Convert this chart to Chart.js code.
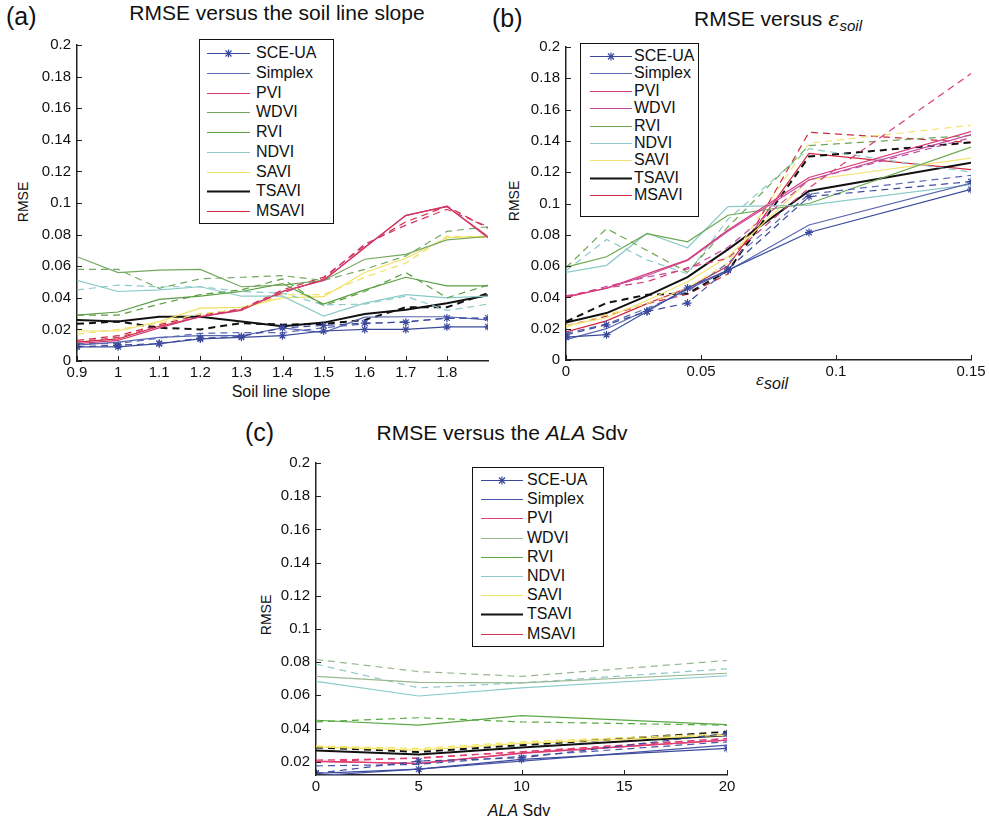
<!DOCTYPE html>
<html>
<head>
<meta charset="utf-8">
<script src="https://cdn.jsdelivr.net/npm/chart.js@4.4.1/dist/chart.umd.min.js"></script>
<style>
  body { margin: 0; background: #fff; font-family: "Liberation Sans", Arial, sans-serif; }
  #page { position: relative; width: 989px; height: 825px; overflow: hidden; }
  .abs { position: absolute; white-space: nowrap; color: #111; }
  .panel-tag { font-size: 25px; }
  .title { font-size: 21px; transform: translateX(-50%); }
  .axlab { font-size: 16px; transform: translateX(-50%); }
  .ylab { font-size: 14px; transform: translate(-50%, -50%) rotate(-90deg); }
  .legend { position: absolute; border: 1.5px solid #111; background: #fff; box-sizing: border-box; }
  .legend .row { position: absolute; left: 0; right: 0; height: 18px; font-size: 16px; line-height: 18px; white-space: nowrap; color: #111; }
  canvas { position: absolute; }
</style>
</head>
<body>
<div id="page">
  <div class="abs panel-tag" style="left:6px;top:2px">(a)</div>
  <div class="abs title" style="left:277px;top:1px">RMSE versus the soil line slope</div>
  <div class="abs ylab" style="left:23px;top:202px">RMSE</div>
  <div class="abs axlab" style="left:281px;top:383px">Soil line slope</div>

  <div class="abs panel-tag" style="left:492px;top:4px">(b)</div>
  <div class="abs title" style="left:778px;top:7px">RMSE versus <i style="font-family:'DejaVu Serif',serif">&epsilon;</i><sub style="font-size:15px"><i>soil</i></sub></div>
  <div class="abs ylab" style="left:514px;top:201px">RMSE</div>
  <div class="abs axlab" style="left:772px;top:371px"><i style="font-family:'DejaVu Serif',serif;font-size:15px">&epsilon;</i><sub style="font-size:16px"><i>soil</i></sub></div>

  <div class="abs panel-tag" style="left:245px;top:418px">(c)</div>
  <div class="abs title" style="left:502px;top:421px">RMSE versus the <i>ALA</i> Sdv</div>
  <div class="abs ylab" style="left:266px;top:615px">RMSE</div>
  <div class="abs axlab" style="left:519px;top:802px"><i>ALA</i> Sdv</div>

  <canvas id="chartA" width="500" height="356" style="left:0px;top:30px"></canvas>
  <canvas id="chartB" width="499" height="353" style="left:490px;top:32px"></canvas>
  <canvas id="chartC" width="502" height="352" style="left:240px;top:448px"></canvas>

  <div id="legendA" class="legend" style="left:199px;top:39px;width:135px;height:185px"></div>
  <div id="legendB" class="legend" style="left:580px;top:43px;width:119px;height:174px"></div>
  <div id="legendC" class="legend" style="left:472px;top:467px;width:132px;height:180px"></div>
</div>

<script>
const seriesNames = ['SCE-UA', 'Simplex', 'PVI', 'WDVI', 'RVI', 'NDVI', 'SAVI', 'TSAVI', 'MSAVI'];

// (a) RMSE vs soil line slope
const slopeX = [0.9, 1.0, 1.1, 1.2, 1.3, 1.4, 1.5, 1.6, 1.7, 1.8, 1.9];
const slopeTicks = [0.9, 1.0, 1.1, 1.2, 1.3, 1.4, 1.5, 1.6, 1.7, 1.8];
const slopeSCEUA = [0.009, 0.009, 0.011, 0.014, 0.015, 0.016, 0.019, 0.020, 0.020, 0.0216, 0.0216];
const slopeSCEUAdash = [0.009, 0.010, 0.011, 0.0145, 0.0155, 0.021, 0.0225, 0.024, 0.0245, 0.0272, 0.0272];
const slopeSimplex = [0.010, 0.012, 0.015, 0.016, 0.016, 0.021, 0.018, 0.0278, 0.028, 0.028, 0.026];
const slopeSimplexDash = [0.011, 0.011, 0.0145, 0.0175, 0.018, 0.018, 0.021, 0.0235, 0.025, 0.027, 0.027];
const slopePVI = [0.011, 0.013, 0.021, 0.028, 0.032, 0.044, 0.051, 0.072, 0.092, 0.098, 0.078];
const slopePVIdash = [0.012, 0.015, 0.022, 0.028, 0.033, 0.043, 0.052, 0.074, 0.086, 0.096, 0.085];
const slopeWDVI = [0.066, 0.056, 0.0575, 0.058, 0.047, 0.048, 0.051, 0.0644, 0.0675, 0.0767, 0.0788];
const slopeWDVIdash = [0.058, 0.058, 0.046, 0.052, 0.053, 0.054, 0.051, 0.058, 0.0665, 0.082, 0.085];
const slopeRVI = [0.029, 0.031, 0.039, 0.041, 0.044, 0.049, 0.036, 0.045, 0.053, 0.0475, 0.0475];
const slopeRVIdash = [0.029, 0.029, 0.036, 0.042, 0.045, 0.052, 0.035, 0.044, 0.056, 0.040, 0.048];
const slopeNDVI = [0.051, 0.044, 0.045, 0.047, 0.041, 0.041, 0.0284, 0.0366, 0.042, 0.040, 0.041];
const slopeNDVIdash = [0.045, 0.048, 0.047, 0.047, 0.044, 0.043, 0.0355, 0.036, 0.041, 0.032, 0.036];
const slopeSAVI = [0.019, 0.019, 0.025, 0.0335, 0.034, 0.040, 0.0407, 0.056, 0.065, 0.078, 0.079];
const slopeSAVIdash = [0.017, 0.020, 0.024, 0.030, 0.0325, 0.042, 0.042, 0.053, 0.062, 0.079, 0.078];
const slopeTSAVI = [0.026, 0.025, 0.028, 0.028, 0.025, 0.022, 0.0243, 0.0298, 0.0325, 0.0366, 0.0417];
const slopeTSAVIdash = [0.0235, 0.025, 0.021, 0.020, 0.024, 0.023, 0.0235, 0.026, 0.034, 0.034, 0.043];
const slopeMSAVI = [0.012, 0.014, 0.022, 0.028, 0.0325, 0.044, 0.0512, 0.0716, 0.0922, 0.0977, 0.0788];
const slopeMSAVIdash = [0.013, 0.016, 0.023, 0.029, 0.033, 0.045, 0.053, 0.073, 0.088, 0.098, 0.084];

// (b) RMSE vs soil noise
const epsX = [0, 0.015, 0.03, 0.045, 0.06, 0.09, 0.15];
const epsTicks = [0, 0.05, 0.1, 0.15];
const epsSCEUA = [0.0146, 0.0162, 0.031, 0.046, 0.0574, 0.0815, 0.109];
const epsSCEUAdash = [0.016, 0.0225, 0.031, 0.0364, 0.058, 0.1044, 0.114];
const epsSimplex = [0.013, 0.020, 0.032, 0.045, 0.057, 0.0863, 0.113];
const epsSimplexDash = [0.017, 0.023, 0.033, 0.0437, 0.062, 0.106, 0.118];
const epsPVI = [0.040, 0.046, 0.055, 0.064, 0.083, 0.1166, 0.146];
const epsPVIdash = [0.041, 0.046, 0.050, 0.059, 0.065, 0.110, 0.183];
const epsWDVI = [0.0405, 0.0457, 0.054, 0.0636, 0.0823, 0.115, 0.144];
const epsWDVIdash = [0.040, 0.047, 0.053, 0.058, 0.072, 0.115, 0.142];
const epsRVI = [0.0593, 0.066, 0.0807, 0.0755, 0.0925, 0.100, 0.136];
const epsRVIdash = [0.059, 0.084, 0.070, 0.056, 0.085, 0.137, 0.1435];
const epsNDVI = [0.056, 0.0605, 0.081, 0.0717, 0.098, 0.099, 0.112];
const epsNDVIdash = [0.057, 0.077, 0.064, 0.055, 0.090, 0.135, 0.120];
const epsSAVI = [0.022, 0.027, 0.038, 0.050, 0.066, 0.115, 0.129];
const epsSAVIdash = [0.021, 0.029, 0.036, 0.046, 0.062, 0.1385, 0.150];
const epsTSAVI = [0.0239, 0.030, 0.041, 0.053, 0.0707, 0.108, 0.126];
const epsTSAVIdash = [0.0245, 0.0364, 0.0417, 0.0425, 0.057, 0.130, 0.139];
const epsMSAVI = [0.018, 0.025, 0.036, 0.046, 0.060, 0.132, 0.1216];
const epsMSAVIdash = [0.022, 0.028, 0.036, 0.042, 0.055, 0.1455, 0.139];

// (c) RMSE vs ALA Sdv
const sdvX = [0, 5, 10, 20];
const sdvTicks = [0, 5, 10, 15, 20];
const sdvSCEUA = [0.013, 0.0155, 0.0214, 0.028];
const sdvSCEUAdash = [0.013, 0.0204, 0.0224, 0.037];
const sdvSimplex = [0.0116, 0.0155, 0.0204, 0.030];
const sdvSimplexDash = [0.0175, 0.0184, 0.0233, 0.032];
const sdvPVI = [0.020, 0.019, 0.025, 0.033];
const sdvPVIdash = [0.021, 0.022, 0.026, 0.034];
const sdvWDVI = [0.0714, 0.0678, 0.0675, 0.0733];
const sdvWDVIdash = [0.0816, 0.0743, 0.0714, 0.081];
const sdvRVI = [0.045, 0.042, 0.0478, 0.0424];
const sdvRVIdash = [0.044, 0.0465, 0.044, 0.042];
const sdvNDVI = [0.0684, 0.0596, 0.0645, 0.0718];
const sdvNDVIdash = [0.0788, 0.0645, 0.0675, 0.076];
const sdvSAVI = [0.029, 0.027, 0.031, 0.036];
const sdvSAVIdash = [0.0295, 0.028, 0.032, 0.037];
const sdvTSAVI = [0.0267, 0.0243, 0.0286, 0.036];
const sdvTSAVIdash = [0.0286, 0.0259, 0.030, 0.038];
const sdvMSAVI = [0.0204, 0.0188, 0.0253, 0.033];
const sdvMSAVIdash = [0.020, 0.0224, 0.026, 0.034];

const rmseTicks = [0, 0.02, 0.04, 0.06, 0.08, 0.1, 0.12, 0.14, 0.16, 0.18, 0.2];
const rmseTicksC = [0.02, 0.04, 0.06, 0.08, 0.1, 0.12, 0.14, 0.16, 0.18, 0.2];

const colorsA = ['#3b4a9c', '#5a66b0', '#d2386e', '#74a860', '#5a9e44', '#8ccaca', '#f0e060', '#111111', '#d02a3e'];
const colorsB = ['#3b4a9c', '#5a66b0', '#d83a78', '#c44aa0', '#6aa850', '#8ccaca', '#f2e470', '#111111', '#d02a3e'];
const colorsC = ['#3b4a9c', '#4a56a8', '#e0407a', '#98b890', '#5aa845', '#8ccaca', '#f2e460', '#111111', '#d83050'];

const fmt = v => String(parseFloat(Number(v).toFixed(3)));

// small inward tick marks, MATLAB style
const innerTicks = {
  id: 'innerTicks',
  afterDraw(chart) {
    const { ctx, chartArea: a, scales: { x, y } } = chart;
    ctx.save();
    ctx.strokeStyle = '#222';
    ctx.lineWidth = 1;
    ctx.beginPath();
    x.ticks.forEach(t => {
      const px = Math.round(x.getPixelForValue(t.value)) + 0.5;
      ctx.moveTo(px, a.bottom); ctx.lineTo(px, a.bottom - 5);
    });
    y.ticks.forEach(t => {
      const py = Math.round(y.getPixelForValue(t.value)) + 0.5;
      ctx.moveTo(a.left, py); ctx.lineTo(a.left + 5, py);
    });
    ctx.stroke();
    ctx.restore();
  }
};

function buildSets(xs, solid, dashed, colors) {
  const sets = [];
  seriesNames.forEach((name, i) => {
    [solid[i], dashed[i]].forEach((ys, k) => {
      const isSce = i === 0;
      sets.push({
        label: name + (k ? ' (dash)' : ''),
        data: xs.map((x, j) => ({ x: x, y: ys[j] })),
        borderColor: colors[i],
        backgroundColor: colors[i],
        borderWidth: i === 7 ? 2 : 1.2,
        borderDash: k ? [7, 5] : [],
        pointStyle: 'star',
        pointRadius: isSce ? 4 : 0,
        pointBorderWidth: 1.2,
        pointBorderColor: colors[i],
        tension: 0,
        fill: false
      });
    });
  });
  return sets;
}

function makeChart(id, xs, solid, dashed, colors, xOpts, yOpts, yWidth, padRight) {
  const tickFont = { family: '"Liberation Sans", Arial, sans-serif', size: 15 };
  return new Chart(document.getElementById(id), {
    type: 'line',
    data: { datasets: buildSets(xs, solid, dashed, colors) },
    plugins: [innerTicks],
    options: {
      responsive: false,
      animation: false,
      layout: { padding: { top: 7, right: padRight, bottom: 0, left: 0 } },
      plugins: { legend: { display: false }, tooltip: { enabled: false } },
      scales: {
        x: {
          type: 'linear', min: xOpts.min, max: xOpts.max,
          afterBuildTicks: s => { s.ticks = xOpts.ticks.map(v => ({ value: v })); },
          afterFit: s => { s.height = 25; },
          grid: { display: false, drawTicks: false },
          border: { display: true, color: '#222', width: 1.5 },
          ticks: { color: '#111', font: tickFont, padding: 3, autoSkip: false, maxRotation: 0, callback: fmt }
        },
        y: {
          type: 'linear', min: yOpts.min, max: yOpts.max,
          afterBuildTicks: s => { s.ticks = yOpts.ticks.map(v => ({ value: v })); },
          afterFit: s => { s.width = yWidth; },
          grid: { display: false, drawTicks: false },
          border: { display: true, color: '#222', width: 1.5 },
          ticks: { color: '#111', font: tickFont, padding: 6, callback: fmt }
        }
      }
    }
  });
}

function buildLegend(id, colors, top0, step, lineX, lineW, textX) {
  const box = document.getElementById(id);
  seriesNames.forEach((name, i) => {
    const row = document.createElement('div');
    row.className = 'row';
    row.style.top = (top0 + i * step - 9) + 'px';
    const c = colors[i];
    const w = i === 7 ? 2.2 : 1.2;
    let svg = `<svg width="${lineW}" height="18" style="position:absolute;left:${lineX}px;top:0">` +
      `<line x1="0" y1="9.5" x2="${lineW}" y2="9.5" stroke="${c}" stroke-width="${w}"/>`;
    if (i === 0) {
      const m = lineW / 2;
      svg += `<g stroke="${c}" stroke-width="1.2"><line x1="${m - 4}" y1="9.5" x2="${m + 4}" y2="9.5"/>` +
        `<line x1="${m}" y1="5.5" x2="${m}" y2="13.5"/><line x1="${m - 3}" y1="6.5" x2="${m + 3}" y2="12.5"/>` +
        `<line x1="${m + 3}" y1="6.5" x2="${m - 3}" y2="12.5"/></g>`;
    }
    svg += '</svg>';
    row.innerHTML = svg + `<span style="position:absolute;left:${textX}px;top:0">${name}</span>`;
    box.appendChild(row);
  });
}

const solidA = [slopeSCEUA, slopeSimplex, slopePVI, slopeWDVI, slopeRVI, slopeNDVI, slopeSAVI, slopeTSAVI, slopeMSAVI];
const dashA = [slopeSCEUAdash, slopeSimplexDash, slopePVIdash, slopeWDVIdash, slopeRVIdash, slopeNDVIdash, slopeSAVIdash, slopeTSAVIdash, slopeMSAVIdash];
const solidB = [epsSCEUA, epsSimplex, epsPVI, epsWDVI, epsRVI, epsNDVI, epsSAVI, epsTSAVI, epsMSAVI];
const dashB = [epsSCEUAdash, epsSimplexDash, epsPVIdash, epsWDVIdash, epsRVIdash, epsNDVIdash, epsSAVIdash, epsTSAVIdash, epsMSAVIdash];
const solidC = [sdvSCEUA, sdvSimplex, sdvPVI, sdvWDVI, sdvRVI, sdvNDVI, sdvSAVI, sdvTSAVI, sdvMSAVI];
const dashC = [sdvSCEUAdash, sdvSimplexDash, sdvPVIdash, sdvWDVIdash, sdvRVIdash, sdvNDVIdash, sdvSAVIdash, sdvTSAVIdash, sdvMSAVIdash];

makeChart('chartA', slopeX, solidA, dashA, colorsA,
  { min: 0.9, max: 1.9, ticks: slopeTicks }, { min: 0, max: 0.2, ticks: rmseTicks }, 77, 12);
makeChart('chartB', epsX, solidB, dashB, colorsB,
  { min: 0, max: 0.15, ticks: epsTicks }, { min: 0, max: 0.2, ticks: rmseTicks }, 76, 18);
makeChart('chartC', sdvX, solidC, dashC, colorsC,
  { min: 0, max: 20, ticks: sdvTicks }, { min: 0.012, max: 0.2, ticks: rmseTicksC }, 76, 15);

buildLegend('legendA', colorsA, 13, 19.75, 7, 43, 56);
buildLegend('legendB', colorsB, 12, 17.4, 9, 42, 53);
buildLegend('legendC', colorsC, 12, 19.2, 8, 42, 54);
</script>
</body>
</html>
